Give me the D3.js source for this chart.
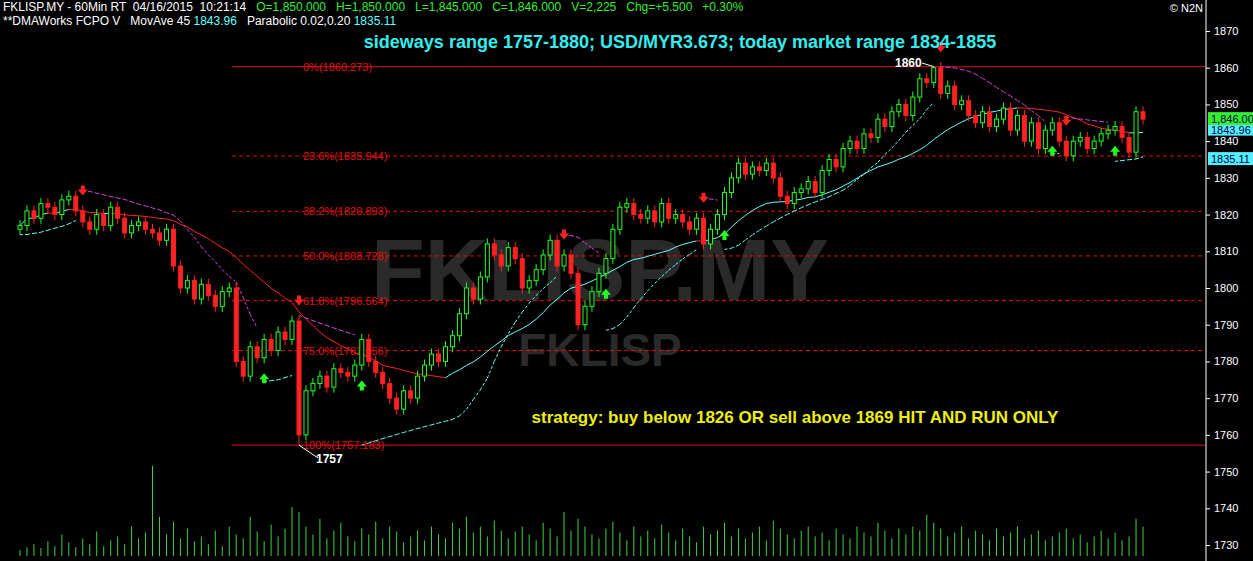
<!DOCTYPE html><html><head><meta charset="utf-8">
<script src="https://cdn.jsdelivr.net/npm/d3@7"></script>
<style>body{margin:0;background:#000}svg{display:block}text{font-family:"Liberation Sans",Arial,sans-serif;white-space:pre}</style></head><body>
<svg id="c" width="1253" height="561"></svg>
<script>
const closes=[1817,1821,1819,1823,1822,1820,1824,1825,1821,1818,
1816,1820,1817,1822,1819,1815,1817,1818,1816,1815,
1813,1816,1806,1800,1802,1797,1801,1798,1795,1799,
1800,1780,1776,1784,1781,1786,1783,1788,1786,1791,
1760,1772,1774,1776,1773,1778,1777,1776,1779,1786,
1780,1777,1774,1770,1767,1772,1770,1776,1779,1782,
1780,1784,1787,1793,1800,1797,1803,1812,1809,1806,
1811,1808,1800,1802,1805,1809,1813,1806,1809,1804,
1790,1795,1799,1804,1808,1816,1822,1823,1820,1819,
1821,1818,1823,1819,1820,1818,1816,1819,1812,1816,
1820,1826,1830,1834,1831,1833,1832,1834,1830,1825,
1823,1826,1827,1829,1826,1832,1835,1833,1838,1840,
1838,1842,1841,1846,1844,1848,1850,1847,1852,1857,
1856,1860,1853,1855,1850,1851,1847,1845,1848,1844,
1846,1849,1843,1847,1840,1845,1838,1843,1845,1840,
1836,1840,1841,1838,1840,1842,1843,1844,1841,1837,
1848,1846];
const volumes=[6,9,12,8,15,10,22,14,9,18,12,25,10,16,20,12,30,18,24,92,
40,22,35,18,28,15,20,12,26,10,30,22,18,40,25,15,32,20,28,50,
45,30,22,38,18,26,34,20,15,28,22,35,18,30,25,14,20,26,16,30,
22,18,34,28,40,24,30,20,36,26,18,25,30,22,16,34,28,20,45,26,
38,30,22,18,28,35,24,16,30,20,26,18,32,24,16,28,20,14,30,22,
26,34,20,28,18,24,30,16,36,28,22,18,26,30,20,24,16,28,22,18,
30,24,20,34,26,18,28,22,30,26,42,34,28,20,24,30,18,26,22,16,
28,20,24,30,18,22,26,16,20,24,28,18,22,14,20,26,18,24,16,20,38,30];
const fibLevels=[1860.273,1835.944,1820.893,1808.728,1796.564,1782.956,1757.183];
const fibNames=["0%","23.6%","38.2%","50.0%","61.8%","75.0%","100%"];
const yTicks=[1730,1740,1750,1760,1770,1780,1790,1800,1810,1820,1830,1840,1850,1860,1870];

const svg=d3.select("#c");
const y=d3.scaleLinear().domain([1730,1870]).range([545,31]);
const x=d3.scaleLinear().domain([0,closes.length-1]).range([20,1143]);
const vy=d3.scaleLinear().domain([0,100]).range([556,458]);
const bars=closes.map((c,i)=>{const o=i?closes[i-1]:c-1;return{o,c,h:Math.max(o,c)+1.5,l:Math.min(o,c)-1.5,i};});
bars[40].l=1757.2; bars[131].h=1860.3;

// watermark
svg.append("text").attr("x",600).attr("y",300).attr("text-anchor","middle").attr("font-size",88).attr("font-weight","bold").attr("fill","#2a2a2a").text("FKLISP.MY");
svg.append("text").attr("x",600).attr("y",366).attr("text-anchor","middle").attr("font-size",46).attr("font-weight","bold").attr("fill","#2a2a2a").text("FKLISP");

// volume
svg.append("g").selectAll("line").data(volumes).join("line").attr("x1",(d,i)=>x(i)).attr("x2",(d,i)=>x(i)).attr("y1",vy(0)).attr("y2",d=>vy(d)).attr("stroke","#3fd23f").attr("stroke-width",1);

// fib lines
fibLevels.forEach((v,k)=>{const solid=(k==0||k==6);
 svg.append("line").attr("x1",232).attr("x2",1205).attr("y1",y(v)).attr("y2",y(v)).attr("stroke","#e01010").attr("stroke-width",1).attr("stroke-dasharray",solid?null:"4,3");
 svg.append("text").attr("x",303).attr("y",y(v)+4).attr("font-size",11).attr("fill","#e01010").text(fibNames[k]+"("+v.toFixed(3)+")");
});

// MA
const N=22;const ma=closes.map((c,i)=>{const s=closes.slice(Math.max(0,i-N+1),i+1);return d3.mean(s);});
for(let i=1;i<ma.length;i++){svg.append("line").attr("x1",x(i-1)).attr("x2",x(i)).attr("y1",y(ma[i-1])).attr("y2",y(ma[i])).attr("stroke",ma[i]>=ma[i-1]?"#6ff":"#f22").attr("stroke-width",1);}

// parabolic SAR
let up=true,af=0.02,ep=bars[0].h,sar=bars[0].l;const sars=[];
bars.forEach((b,i)=>{if(i==0){sars.push({v:sar,up,flip:false});return;}
 sar=sar+af*(ep-sar);let flip=false;
 if(up){if(b.l<sar){up=false;flip=true;sar=ep;ep=b.l;af=0.02;}else if(b.h>ep){ep=b.h;af=Math.min(0.2,af+0.02);}}
 else{if(b.h>sar){up=true;flip=true;sar=ep;ep=b.h;af=0.02;}else if(b.l<ep){ep=b.l;af=Math.min(0.2,af+0.02);}}
 sars.push({v:sar,up,flip});});
for(let i=1;i<sars.length;i++){if(sars[i].flip)continue;svg.append("line").attr("x1",x(i-1)).attr("x2",x(i)).attr("y1",y(sars[i-1].v)).attr("y2",y(sars[i].v)).attr("stroke",sars[i].up?"#6ff":"#e040e0").attr("stroke-dasharray","3,2");}
sars.forEach((s,i)=>{if(!s.flip)return;const b=bars[i];
 if(s.up){const yy=y(b.l)+10;svg.append("path").attr("d",`M${x(i)},${yy} l-5,6 h3 v4 h4 v-4 h3 z`).attr("fill","#2f2");}
 else{const yy=y(b.h)-10;svg.append("path").attr("d",`M${x(i)},${yy} l-5,-6 h3 v-4 h4 v4 h3 z`).attr("fill","#f22");}});

// candles
const g=svg.append("g");
bars.forEach(b=>{const col=b.c>=b.o?"#2f2":"#f22";
 g.append("line").attr("x1",x(b.i)).attr("x2",x(b.i)).attr("y1",y(b.h)).attr("y2",y(b.l)).attr("stroke",col);
 g.append("rect").attr("x",x(b.i)-2).attr("width",4).attr("y",y(Math.max(b.o,b.c))).attr("height",Math.max(1,Math.abs(y(b.o)-y(b.c)))).attr("fill",b.c>=b.o?"#000":col).attr("stroke",col).attr("stroke-width",1);});

// high/low labels
svg.append("line").attr("x1",x(40)).attr("y1",y(1757.2)).attr("x2",318).attr("y2",458).attr("stroke","#fff");
svg.append("text").attr("x",316).attr("y",463).attr("font-size",12).attr("font-weight","bold").attr("fill","#fff").text("1757");
svg.append("line").attr("x1",x(131)).attr("y1",y(1860.3)).attr("x2",922).attr("y2",63).attr("stroke","#fff");
svg.append("text").attr("x",895).attr("y",67).attr("font-size",12).attr("font-weight","bold").attr("fill","#fff").text("1860");

// axis
svg.append("line").attr("x1",1206).attr("x2",1206).attr("y1",0).attr("y2",561).attr("stroke","#fff");
const ax=svg.append("g").attr("transform","translate(1206,0)").call(d3.axisRight(y).tickValues(yTicks).tickSize(4).tickFormat(d3.format("d")));
ax.select(".domain").remove();ax.selectAll("line").attr("stroke","#fff");ax.selectAll("text").attr("fill","#fff").attr("font-size",11).attr("x",8);
function box(v,txt,fill,dy){svg.append("rect").attr("x",1208).attr("y",y(v)-7+dy).attr("width",45).attr("height",13).attr("fill",fill);
 svg.append("text").attr("x",1211).attr("y",y(v)+4+dy).attr("font-size",11).attr("fill","#004").text(txt);}
box(1843.96,"1843.96","#5ef",3);box(1846,"1,846.00","#3e3",0);box(1835.11,"1835.11","#5ef",0);
svg.append("text").attr("x",1203).attr("y",12).attr("text-anchor","end").attr("font-size",11).attr("fill","#fff").text("© N2N");

// header
const h1=svg.append("text").attr("x",3).attr("y",11).attr("font-size",12);
h1.append("tspan").attr("fill","#fff").text("FKLISP.MY - 60Min RT  04/16/2015  10:21:14   ");
h1.append("tspan").attr("fill","#3e3").text("O=1,850.000   H=1,850.000   L=1,845.000   C=1,846.000   V=2,225   Chg=+5.500   +0.30%");
const h2=svg.append("text").attr("x",3).attr("y",25).attr("font-size",12);
h2.append("tspan").attr("fill","#fff").text("**DMAWorks FCPO V   MovAve 45 ");h2.append("tspan").attr("fill","#6ff").text("1843.96");
h2.append("tspan").attr("fill","#fff").text("   Parabolic 0.02,0.20 ");h2.append("tspan").attr("fill","#6ff").text("1835.11");
svg.append("text").attr("x",680).attr("y",48).attr("text-anchor","middle").attr("font-size",18).attr("font-weight","bold").attr("fill","#3ee").text("sideways range 1757-1880; USD/MYR3.673; today market range 1834-1855");
svg.append("text").attr("x",795).attr("y",423).attr("text-anchor","middle").attr("font-size",17).attr("font-weight","bold").attr("fill","#ee1").text("strategy: buy below 1826 OR sell above 1869 HIT AND RUN ONLY");
</script></body></html>
